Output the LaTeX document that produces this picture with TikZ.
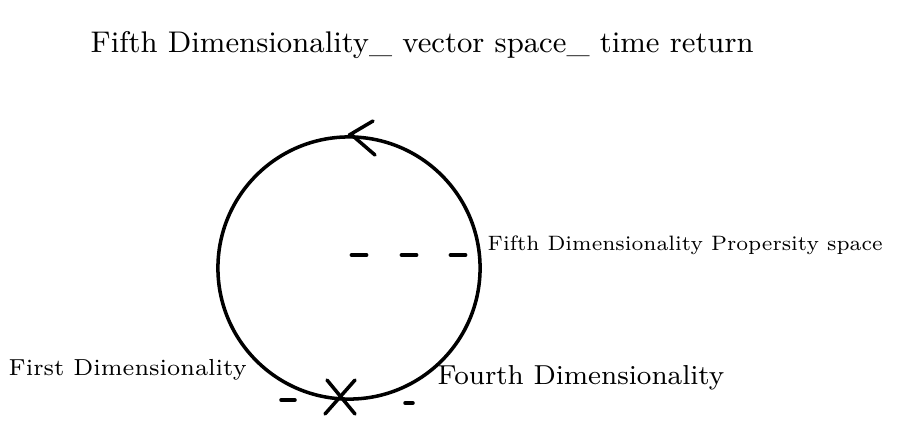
\documentclass[tikz,border=0pt]{standalone}
\usepackage{tikz}
\usetikzlibrary{arrows.meta, positioning}

\begin{document}
\begin{tikzpicture}[
    x=0.01cm, y=-0.01cm,
    pen/.style={line width=1pt, line cap=round},
    lbl/.style={inner sep=0pt, anchor=west},
]
    \useasboundingbox (0,0) rectangle (919,421);

    % the loop
    \node[draw, pen, circle, minimum size=2.62cm, inner sep=0pt] (loop) at (349,268) {};
    \draw[pen] (373,121) -- (loop.north) ++(3,0) coordinate (tip) -- (375,155);

    % mark at the bottom
    \coordinate (cross) at (340,397);
    \draw[pen] (cross) ++(-13,-17) -- ++(28,34);
    \draw[pen] (cross) ++(15,-17) -- ++(-30,34);

    % dashes inside
    \foreach \x in {352,402,451}
        \draw[pen, line width=1.4pt] (\x,255) -- ++(14,0);
    \draw[pen] (281,400) -- ++(14,0);
    \draw[pen] (405,403) -- ++(8,0);

    \node[lbl, font=\fontsize{8.5}{10}\selectfont] (title) at (90,45)
        {Fifth Dimensionality\_ vector space\_ time return};
    \node[lbl, font=\fontsize{7.4}{9}\selectfont] (fifth) at (487,245)
        {\scalebox{0.8}{Fifth Dimensionality Propersity space}};
    \node[lbl, font=\fontsize{6.6}{8}\selectfont] (first) at (8,370)
        {First Dimensionality};
    \node[lbl, font=\fontsize{7.8}{9}\selectfont] (fourth) at (437,378)
        {Fourth Dimensionality};
\end{tikzpicture}
\end{document}
